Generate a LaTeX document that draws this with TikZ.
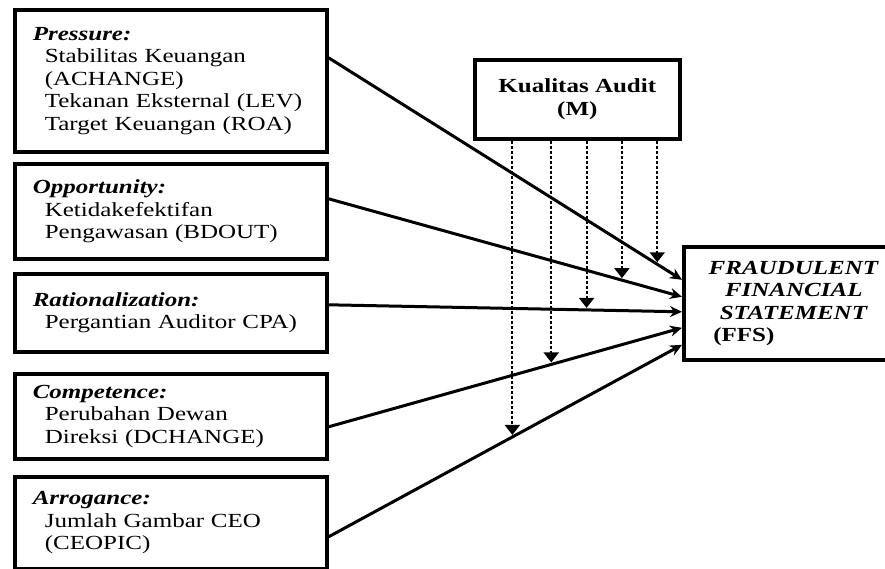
\documentclass[tikz,border=0pt]{standalone}
\usepackage{fontspec}
\setmainfont{Liberation Serif}[FakeStretch=1.25]
\usetikzlibrary{
    arrows.meta,
    positioning
}

\begin{document}
\begin{tikzpicture}[x=1pt,y=-1pt,
    every node/.style={font=\fontsize{20}{22.5}\selectfont},
    factor/.style={draw,line width=3.6pt,anchor=north west,minimum width=312pt,
        text width=276pt,inner xsep=18pt,align=left},
    mainbox/.style={draw,line width=3.6pt,anchor=north west,align=center},
    effect/.style={line width=3pt,-{Stealth[length=12pt,width=11pt]}},
    moderate/.style={line width=2pt,dash pattern=on 3pt off 2pt,
        -{Triangle[length=10pt,width=15pt]},shorten >=2pt}
]
    % indented line under a heading
    \def\indline#1{\hspace*{12pt}#1}

    \useasboundingbox (0,0) rectangle (885,569);

    \node[factor,minimum height=142pt] (press) at (13,8) {\textbf{\textit{Pressure:}}\\
        \indline{Stabilitas Keuangan}\\ \indline{(ACHANGE)}\\
        \indline{Tekanan Eksternal (LEV)}\\ \indline{Target Keuangan (ROA)}};
    \node[factor,minimum height=95pt] (oppo) at (13,162) {\textbf{\textit{Opportunity:}}\\
        \indline{Ketidakefektifan}\\ \indline{Pengawasan (BDOUT)}};
    \node[factor,minimum height=78pt] (rati) at (13,272) {\textbf{\textit{Rationalization:}}\\
        \indline{Pergantian Auditor CPA)}};
    \node[factor,minimum height=85pt] (comp) at (13,372) {\textbf{\textit{Competence:}}\\
        \indline{Perubahan Dewan}\\ \indline{Direksi (DCHANGE)}};
    \node[factor,minimum height=92pt] (arro) at (13,475) {\textbf{\textit{Arrogance:}}\\
        \indline{Jumlah Gambar CEO}\\ \indline{(CEOPIC)}};

    \node[mainbox,minimum width=205pt,minimum height=79pt] (kual) at (473,58)
        {\textbf{Kualitas Audit}\\ \textbf{(M)}};
    \node[mainbox,minimum width=220pt,minimum height=113pt] (ffs) at (682,245)
        {\textbf{\textit{FRAUDULENT}}\\ \textbf{\textit{FINANCIAL}}\\
         \textbf{\textit{STATEMENT}}\\ \textbf{(FFS)}\hspace*{100pt}};

    \draw[effect] ([yshift=23pt]press.east) -- ([yshift=23.5pt]ffs.west) coordinate[pos=.93] (m1);
    \draw[effect] ([yshift=12.5pt]oppo.east) -- ([yshift=6.5pt]ffs.west) coordinate[pos=.83] (m2);
    \draw[effect] ([yshift=8pt]rati.east) -- ([yshift=-8.5pt]ffs.west) coordinate[pos=.73] (m3);
    \draw[effect] ([yshift=-10.5pt]comp.east) -- ([yshift=-24.5pt]ffs.west) coordinate[pos=.63] (m4);
    \draw[effect] ([yshift=-14pt]arro.east) -- ([yshift=-41.5pt]ffs.west) coordinate[pos=.52] (m5);

    \draw[moderate] (m1 |- kual.south) -- (m1);
    \draw[moderate] (m2 |- kual.south) -- (m2);
    \draw[moderate] (m3 |- kual.south) -- (m3);
    \draw[moderate] (m4 |- kual.south) -- (m4);
    \draw[moderate] (m5 |- kual.south) -- (m5);
\end{tikzpicture}
\end{document}
